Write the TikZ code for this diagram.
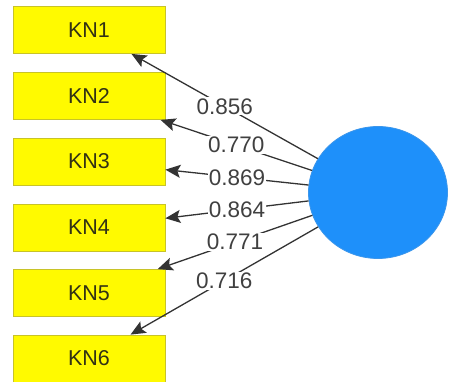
\documentclass[tikz,border=0pt]{standalone}
\usepackage{fontspec}
\setmainfont{Liberation Sans}
\usepackage{tikz}
\usetikzlibrary{arrows.meta,shapes.geometric}
\definecolor{boxfill}{RGB}{255,250,0}
\definecolor{boxline}{RGB}{200,195,40}
\definecolor{latfill}{RGB}{30,144,250}
\definecolor{latline}{RGB}{60,150,235}
\definecolor{txt}{RGB}{50,50,20}

\begin{document}
\begin{tikzpicture}[x=1pt,y=-1pt,inner sep=0pt,
  indicator/.style={rectangle,draw=boxline,fill=boxfill,line width=.8pt,
    minimum width=152pt,minimum height=47pt,text=txt,font=\fontsize{21.5}{23}\selectfont},
  latent/.style={ellipse,draw=latline,fill=latfill,line width=.8pt,minimum width=139pt,minimum height=132pt},
  loading/.style={-{Stealth[length=15pt,width=13pt,inset=3pt]},line width=1.3pt,black!80},
  weight/.style={midway,fill=white,inner sep=1pt,text=black!75,font=\fontsize{22.5}{24}\selectfont}]
\useasboundingbox (0,0) rectangle (472,382);
%Node Coordinates
\node at (89,30) [indicator] (Ind1) {KN1};
\node at (89,96) [indicator] (Ind2) {KN2};
\node at (89,161.5) [indicator] (Ind3) {KN3};
\node at (89,227.5) [indicator] (Ind4) {KN4};
\node at (89,293) [indicator] (Ind5) {KN5};
\node at (89,358.5) [indicator] (Ind6) {KN6};
\node at (378,192.5) [latent] (Lat) {};
%Connections
\draw [loading] (Lat) -- (Ind1) node [weight] {0.856};
\draw [loading] (Lat) -- (Ind2) node [weight] {0.770};
\draw [loading] (Lat) -- (Ind3) node [weight] {0.869};
\draw [loading] (Lat) -- (Ind4) node [weight] {0.864};
\draw [loading] (Lat) -- (Ind5) node [weight] {0.771};
\draw [loading] (Lat) -- (Ind6) node [weight] {0.716};
\end{tikzpicture}
\end{document}
